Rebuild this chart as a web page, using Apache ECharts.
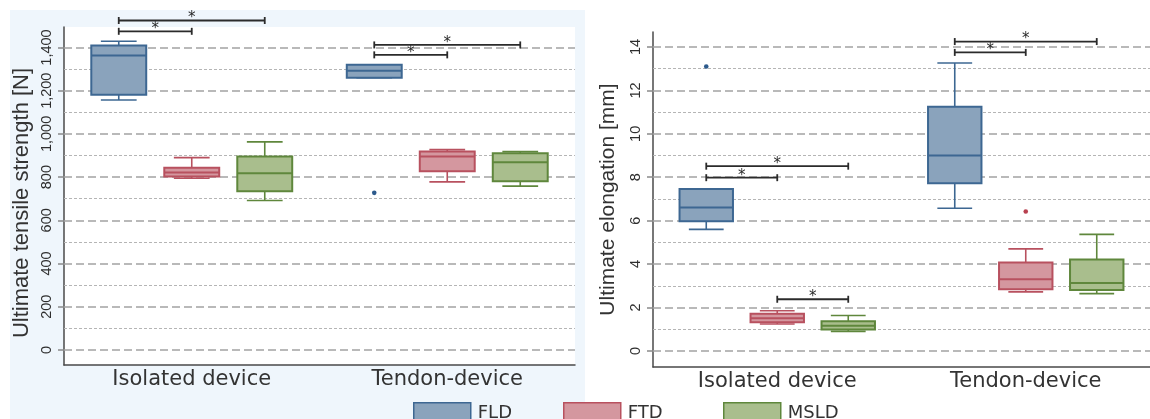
<!DOCTYPE html>
<html>
<head>
<meta charset="utf-8">
<script src="https://cdn.jsdelivr.net/npm/echarts@6/dist/echarts.min.js"></script>
<style>
html,body{margin:0;padding:0;background:#fff;}
#chart{width:1150px;height:419px;}
</style>
</head>
<body>
<div id="chart"></div>
<script>
// ---- data ----
const categories = ['Isolated device', 'Tendon-device'];
const groups = ['FLD', 'FTD', 'MSLD'];
// each row: [lower whisker, Q1, median, Q3, upper whisker], one row per category
const strengthFLD  = [[1157, 1181, 1363, 1409, 1429], [1260, 1260, 1292, 1320, 1320]];
const strengthFTD  = [[795, 803, 821, 843, 890], [778, 827, 895, 919, 927]];
const strengthMSLD = [[692, 735, 818, 895, 963], [758, 781, 869, 910, 918]];
// outliers: [category index, group index, value]
const strengthOutliers = [[1, 0, 727]];
// brackets: [category index, from group, to group, height]
const strengthBrackets = [[0, 0, 2, 1525], [0, 0, 1, 1475], [1, 0, 2, 1412], [1, 0, 1, 1366]];
const strengthTicks = [0, 200, 400, 600, 800, 1000, 1200, 1400];
const strengthMinor = [100, 300, 500, 700, 900, 1100, 1300];

const elongFLD  = [[5.60, 5.97, 6.61, 7.46, 7.46], [6.57, 7.72, 9.00, 11.25, 13.26]];
const elongFTD  = [[1.24, 1.32, 1.51, 1.71, 1.85], [2.72, 2.84, 3.30, 4.07, 4.70]];
const elongMSLD = [[0.90, 0.99, 1.16, 1.37, 1.63], [2.64, 2.81, 3.13, 4.21, 5.37]];
const elongOutliers = [[0, 0, 13.1], [1, 1, 6.42]];
const elongBrackets = [[0, 0, 2, 8.51], [0, 0, 1, 7.98], [0, 1, 2, 2.38], [1, 0, 2, 14.25], [1, 0, 1, 13.75]];
const elongTicks = [0, 2, 4, 6, 8, 10, 12, 14];
const elongMinor = [1, 3, 5, 7, 9, 11, 13];

// ---- styles ----
const palette = [
  { fill: '#8aa3bc', stroke: '#3d6792', dot: '#2d5a8c' },
  { fill: '#d4979f', stroke: '#b8515f', dot: '#b8404f' },
  { fill: '#a9be8d', stroke: '#5f873c', dot: '#5f873c' }
];
const OFFSET = 0.2857, BOXW = 0.215, CAPW = 0.14;

function boxRenderer(g) {
  return function (params, api) {
    const cat = api.value(0);
    const band = api.size([1, 0])[0];
    const cx = api.coord([cat, 0])[0] + (g - 1) * band * OFFSET;
    const Y = v => api.coord([cat, v])[1];
    const lo = Y(api.value(1)), q1 = Y(api.value(2)), md = Y(api.value(3)),
          q3 = Y(api.value(4)), hi = Y(api.value(5));
    const bw = band * BOXW, cw = band * CAPW;
    const c = palette[g];
    const ls = { stroke: c.stroke, lineWidth: 1.6 };
    return {
      type: 'group',
      children: [
        { type: 'line', shape: { x1: cx, y1: q3, x2: cx, y2: hi }, style: ls },
        { type: 'line', shape: { x1: cx - cw / 2, y1: hi, x2: cx + cw / 2, y2: hi }, style: ls },
        { type: 'line', shape: { x1: cx, y1: q1, x2: cx, y2: lo }, style: ls },
        { type: 'line', shape: { x1: cx - cw / 2, y1: lo, x2: cx + cw / 2, y2: lo }, style: ls },
        { type: 'rect', shape: { x: cx - bw / 2, y: q3, width: bw, height: q1 - q3 },
          style: { fill: c.fill, stroke: c.stroke, lineWidth: 2 } },
        { type: 'line', shape: { x1: cx - bw / 2, y1: md, x2: cx + bw / 2, y2: md },
          style: { stroke: c.stroke, lineWidth: 2 } }
      ]
    };
  };
}

function outlierRenderer(params, api) {
  const cat = api.value(0), g = api.value(1);
  const band = api.size([1, 0])[0];
  const p = api.coord([cat, api.value(2)]);
  return { type: 'circle', shape: { cx: p[0] + (g - 1) * band * OFFSET, cy: p[1], r: 2.3 },
           style: { fill: palette[g].dot } };
}

function bracketRenderer(params, api) {
  const cat = api.value(0), g1 = api.value(1), g2 = api.value(2);
  const band = api.size([1, 0])[0];
  const p = api.coord([cat, api.value(3)]);
  const x1 = p[0] + (g1 - 1) * band * OFFSET, x2 = p[0] + (g2 - 1) * band * OFFSET;
  const y = p[1];
  const ls = { stroke: '#2b2b2b', lineWidth: 1.8 };
  return {
    type: 'group',
    children: [
      { type: 'line', shape: { x1: x1, y1: y, x2: x2, y2: y }, style: ls },
      { type: 'line', shape: { x1: x1, y1: y - 3.5, x2: x1, y2: y + 3.5 }, style: ls },
      { type: 'line', shape: { x1: x2, y1: y - 3.5, x2: x2, y2: y + 3.5 }, style: ls },
      { type: 'text', x: (x1 + x2) / 2, y: y - 2,
        style: { text: '*', font: '15px "DejaVu Sans"', fill: '#2b2b2b', align: 'center', verticalAlign: 'middle' } }
    ]
  };
}

function fmtThousands(v) {
  return String(v).replace(/\B(?=(\d{3})+(?!\d))/g, ',');
}

function gridLines(major, minor) {
  return [].concat(
    major.map(v => ({ yAxis: v, lineStyle: { color: '#a3a3a3', width: 1.6, type: [8, 4] } })),
    minor.map(v => ({ yAxis: v, lineStyle: { color: '#b5b5b5', width: 1, type: [3, 2] } }))
  );
}

const panels = [
  { boxes: [strengthFLD, strengthFTD, strengthMSLD], outliers: strengthOutliers,
    brackets: strengthBrackets, major: strengthTicks, minor: strengthMinor },
  { boxes: [elongFLD, elongFTD, elongMSLD], outliers: elongOutliers,
    brackets: elongBrackets, major: elongTicks, minor: elongMinor }
];

const series = [];
panels.forEach((pn, p) => {
  series.push({
    type: 'line', name: 'grid' + p, xAxisIndex: p, yAxisIndex: p, data: [], silent: true, z: 1,
    markLine: { silent: true, symbol: 'none', z: 1, label: { show: false }, animation: false,
                data: gridLines(pn.major, pn.minor) }
  });
  pn.boxes.forEach((rows, g) => {
    series.push({
      type: 'custom', name: groups[g], xAxisIndex: p, yAxisIndex: p, z: 3,
      itemStyle: { color: palette[g].fill, borderColor: palette[g].stroke },
      encode: { x: 0, y: [1, 2, 3, 4, 5] },
      data: rows.map((r, i) => [i].concat(r)),
      renderItem: boxRenderer(g)
    });
  });
  series.push({
    type: 'custom', name: 'outliers' + p, xAxisIndex: p, yAxisIndex: p, z: 4,
    encode: { x: 0, y: 2 }, data: pn.outliers, renderItem: outlierRenderer
  });
  series.push({
    type: 'custom', name: 'brackets' + p, xAxisIndex: p, yAxisIndex: p, z: 4, clip: false,
    encode: { x: 0, y: 3 }, data: pn.brackets, renderItem: bracketRenderer
  });
});

const axisTextColor = '#333';
function xAxisDef(gi) {
  return {
    gridIndex: gi, type: 'category', data: categories, boundaryGap: true,
    axisTick: { show: false },
    axisLine: { onZero: false, lineStyle: { color: '#4a4a4a', width: 1.5 } },
    axisLabel: { fontFamily: 'DejaVu Sans', fontSize: 21, color: axisTextColor, margin: 4 },
    splitLine: { show: false }
  };
}
function yAxisDef(gi, min, max, ticks, name, nameGap, nameSize, pad, fmt) {
  return {
    gridIndex: gi, type: 'value', min: min, max: max,
    axisLine: { show: true, onZero: false, lineStyle: { color: '#4a4a4a', width: 1.5 } },
    axisTick: { show: true, customValues: ticks, length: 6, lineStyle: { color: '#8a8a8a', width: 1.5 } },
    axisLabel: { customValues: ticks, rotate: 90, fontFamily: 'Liberation Sans', fontSize: 14.5,
                 color: '#2e2e2e', margin: 10, formatter: fmt },
    splitLine: { show: false },
    name: name, nameLocation: 'middle', nameGap: nameGap,
    nameTextStyle: { fontFamily: 'Liberation Sans', fontSize: nameSize, color: axisTextColor, padding: pad }
  };
}

const option = {
  animation: false,
  backgroundColor: '#ffffff',
  graphic: [
    { type: 'rect', z: -10, silent: true, shape: { x: 10, y: 10, width: 575, height: 420 },
      style: { fill: '#eff6fc' } }
  ],
  grid: [
    { left: 64, top: 27, width: 511, height: 338, show: true, backgroundColor: '#ffffff', borderWidth: 0 },
    { left: 653, top: 32, width: 509, height: 335, show: true, backgroundColor: '#ffffff', borderWidth: 0 }
  ],
  xAxis: [xAxisDef(0), xAxisDef(1)],
  yAxis: [
    yAxisDef(0, -70, 1495, strengthTicks, 'Ultimate tensile strength [N]', 31.5, 22, [0, 14, 0, 0], fmtThousands),
    yAxisDef(1, -0.74, 14.69, elongTicks, 'Ultimate elongation [mm]', 34.5, 21, 0, v => String(v))
  ],
  legend: groups.map((name, g) => ({
    data: [{ name: name, itemStyle: { color: palette[g].fill, borderColor: palette[g].stroke, borderWidth: 1.5 } }],
    left: [413, 563, 723][g], top: 402, padding: 0, icon: 'rect',
    itemWidth: 57, itemHeight: 22, selectedMode: false,
    textStyle: { fontFamily: 'DejaVu Sans', fontSize: 18, color: axisTextColor, padding: [0, 0, 0, 2] }
  })),
  series: series
};

const chart = echarts.init(document.getElementById('chart'), null, { renderer: 'canvas' });
chart.setOption(option);
</script>
</body>
</html>
